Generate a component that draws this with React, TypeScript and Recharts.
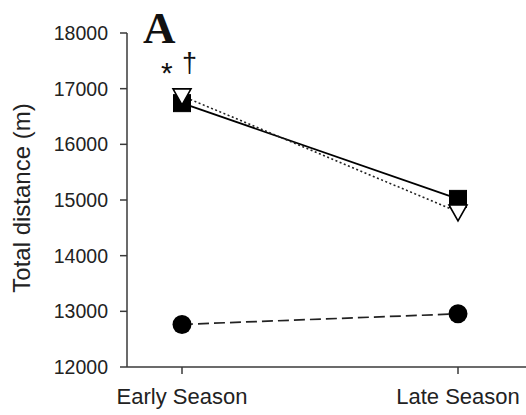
import React from 'react';
import { LineChart, Line, XAxis, YAxis, Label } from 'recharts';

const categories = ['Early Season', 'Late Season'];
const squareSeries = [16740, 15020];
const triangleSeries = [16870, 14785];
const circleSeries = [12765, 12955];
const yTicks = [12000, 13000, 14000, 15000, 16000, 17000, 18000];

const data = categories.map((c, i) => ({
  season: c,
  sq: squareSeries[i],
  tri: triangleSeries[i],
  circ: circleSeries[i],
}));

const FONT = '"Liberation Sans", Arial, Helvetica, sans-serif';
const AXIS = '#3a3a3a';

const SquareDot = (p: any) => {
  const { cx, cy, index } = p;
  if (cx == null || cy == null) return <g key={`s${index}`} />;
  return <rect key={`s${index}`} x={cx - 8.5} y={cy - 8.5} width={17} height={17} fill="#000" stroke="#000" strokeWidth={1} />;
};

const TriangleDot = (p: any) => {
  const { cx, cy, index } = p;
  if (cx == null || cy == null) return <g key={`t${index}`} />;
  const pts = `${cx - 9},${cy - 7} ${cx + 9},${cy - 7} ${cx},${cy + 9}`;
  return <polygon key={`t${index}`} points={pts} fill="#fff" stroke="#000" strokeWidth={1.6} strokeLinejoin="miter" />;
};

const CircleDot = (p: any) => {
  const { cx, cy, index } = p;
  if (cx == null || cy == null) return <g key={`c${index}`} />;
  return <circle key={`c${index}`} cx={cx} cy={cy} r={9.5} fill="#000" />;
};

const Annotations = () => (
  <g>
    <text
      transform="translate(30,198) rotate(-90)"
      textAnchor="middle"
      fontFamily={FONT}
      fontSize={24}
      fill="#222"
    >
      Total distance (m)
    </text>
    <text x={143} y={43} fontFamily='"Liberation Serif", "Times New Roman", serif' fontWeight="bold" fontSize={45} fill="#111">
      A
    </text>
    <text x={161} y={83} fontFamily={FONT} fontSize={30} fill="#111">
      *
    </text>
    <text x={182} y={72} fontFamily={FONT} fontSize={27} fill="#111">
      †
    </text>
  </g>
);

export default function App() {
  return (
    <div style={{ position: 'absolute', left: 0, top: 0, width: 526, height: 415, background: '#fff' }}>
      <LineChart width={526} height={415} data={data} margin={{ top: 33, right: 0, bottom: 18, left: 57 }}>
        <XAxis
          dataKey="season"
          padding={{ left: 55, right: 68 }}
          stroke={AXIS}
          strokeWidth={1.5}
          tickSize={7}
          tickMargin={14}
          height={30}
          tick={{ fill: '#222', fontSize: 22, fontFamily: FONT }}
          tickLine={{ stroke: AXIS, strokeWidth: 1.5 }}
        />
        <YAxis
          domain={[12000, 18000]}
          ticks={yTicks}
          width={70}
          stroke={AXIS}
          strokeWidth={1.5}
          tickSize={7}
          tickMargin={12}
          interval={0}
          tick={{ fill: '#222', fontSize: 19.5, fontFamily: FONT }}
          tickLine={{ stroke: AXIS, strokeWidth: 1.5 }}
        >
          <Label content={Annotations} />
        </YAxis>
        <Line
          dataKey="circ"
          stroke="#222"
          strokeWidth={1.7}
          strokeDasharray="11 5"
          dot={CircleDot}
          isAnimationActive={false}
        />
        <Line
          dataKey="sq"
          stroke="#000"
          strokeWidth={1.8}
          dot={SquareDot}
          isAnimationActive={false}
        />
        <Line
          dataKey="tri"
          stroke="#222"
          strokeWidth={1.6}
          strokeDasharray="2 2.5"
          dot={TriangleDot}
          isAnimationActive={false}
        />
      </LineChart>
    </div>
  );
}
